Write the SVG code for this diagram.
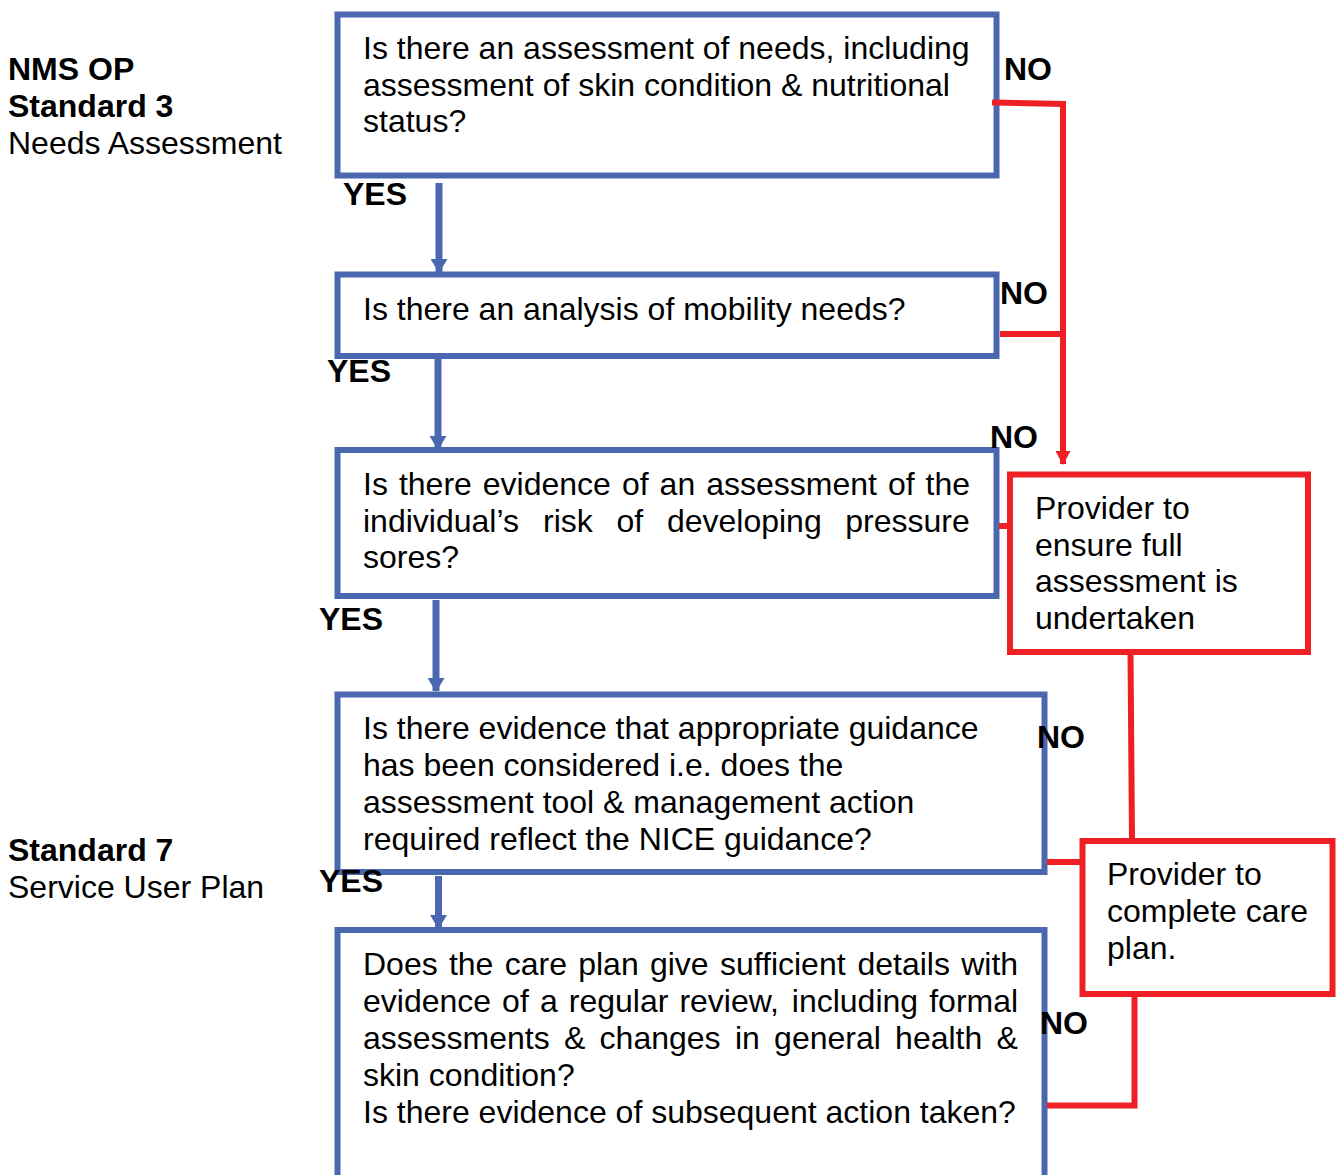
<svg xmlns="http://www.w3.org/2000/svg" width="1336" height="1175" viewBox="0 0 1336 1175">
<style>
text{font-family:"Liberation Sans",Arial,sans-serif;font-size:32px;fill:#000}
.b{font-weight:bold}
.q{fill:#fff;stroke:#4A68B0;stroke-width:6}
.r{fill:#fff;stroke:#EE2026;stroke-width:6}
.cb{fill:none;stroke:#4A68B0;stroke-width:7}
.cr{fill:none;stroke:#EE2026;stroke-width:6}
</style>
<defs>
<marker id="ab" markerUnits="userSpaceOnUse" markerWidth="14" markerHeight="17" viewBox="0 0 14 17" refX="13" refY="8.5" orient="auto"><path d="M0,0 L14,8.5 L0,17 z" fill="#4A68B0"/></marker>
<marker id="ar" markerUnits="userSpaceOnUse" markerWidth="14" markerHeight="15" viewBox="0 0 14 15" refX="13" refY="7.5" orient="auto"><path d="M0,0 L14,7.5 L0,15 z" fill="#EE2026"/></marker>
</defs>
<rect width="1336" height="1175" fill="#fff"/>

<g id="q1">
<rect class="q" x="337.5" y="14.5" width="659" height="161"/>
<text x="363" y="59">Is there an assessment of needs, including</text>
<text x="363" y="95.5">assessment of skin condition &amp; nutritional</text>
<text x="363" y="132">status?</text>
</g>

<g id="q2">
<rect class="q" x="337.5" y="274.5" width="659" height="81.5"/>
<text x="363" y="320">Is there an analysis of mobility needs?</text>
</g>

<g id="q3">
<rect class="q" x="337.5" y="450" width="659" height="146"/>
<text y="495"><tspan x="363">Is</tspan><tspan x="398.9">there</tspan><tspan x="482.8">evidence</tspan><tspan x="621.9">of</tspan><tspan x="659.6">an</tspan><tspan x="706.2">assessment</tspan><tspan x="887.9">of</tspan><tspan x="925.6">the</tspan></text>
<text y="532"><tspan x="363">individual’s</tspan><tspan x="543.1">risk</tspan><tspan x="616.5">of</tspan><tspan x="666.9">developing</tspan><tspan x="845.3">pressure</tspan></text>
<text x="363" y="568">sores?</text>
</g>

<g id="q4">
<rect class="q" x="337.5" y="694.5" width="707" height="177.5"/>
<text x="363" y="739">Is there evidence that appropriate guidance</text>
<text x="363" y="776">has been considered i.e. does the</text>
<text x="363" y="813">assessment tool &amp; management action</text>
<text x="363" y="850">required reflect the NICE guidance?</text>
</g>

<g id="q5">
<rect class="q" x="337.5" y="930" width="707" height="260"/>
<text y="975"><tspan x="363">Does</tspan><tspan x="448.9">the</tspan><tspan x="504.7">care</tspan><tspan x="578.2">plan</tspan><tspan x="649.9">give</tspan><tspan x="719.9">sufficient</tspan><tspan x="857.4">details</tspan><tspan x="961.2">with</tspan></text>
<text y="1012"><tspan x="363">evidence</tspan><tspan x="502.1">of</tspan><tspan x="539.9">a</tspan><tspan x="568.8">regular</tspan><tspan x="679.4">review,</tspan><tspan x="791.8">including</tspan><tspan x="929.2">formal</tspan></text>
<text y="1049"><tspan x="363">assessments</tspan><tspan x="564">&amp;</tspan><tspan x="599.6">changes</tspan><tspan x="734.9">in</tspan><tspan x="774.1">general</tspan><tspan x="895.1">health</tspan><tspan x="996.6">&amp;</tspan></text>
<text x="363" y="1086">skin condition?</text>
<text x="363" y="1123">Is there evidence of subsequent action taken?</text>
</g>

<g id="a1">
<rect class="r" x="1010" y="474.5" width="298" height="177.5"/>
<text x="1035" y="519">Provider to</text>
<text x="1035" y="556">ensure full</text>
<text x="1035" y="592">assessment is</text>
<text x="1035" y="629">undertaken</text>
</g>

<g id="a2">
<rect class="r" x="1082.5" y="841" width="250" height="153"/>
<text x="1107" y="885">Provider to</text>
<text x="1107" y="922">complete care</text>
<text x="1107" y="959">plan.</text>
</g>

<g id="connectors">
<line class="cb" x1="439" y1="183" x2="439" y2="272" marker-end="url(#ab)"/>
<line class="cb" x1="438" y1="359" x2="438" y2="449" marker-end="url(#ab)"/>
<line class="cb" x1="436" y1="600" x2="436" y2="691" marker-end="url(#ab)"/>
<line class="cb" x1="438.5" y1="876" x2="438.5" y2="928" marker-end="url(#ab)"/>
<path class="cr" d="M992,102.5 L1063,104 L1063,464" marker-end="url(#ar)"/>
<line class="cr" x1="1000" y1="334" x2="1063" y2="334"/>
<line class="cr" x1="999" y1="526" x2="1010" y2="526"/>
<line class="cr" x1="1130.5" y1="652" x2="1132" y2="841"/>
<line class="cr" x1="1047" y1="862" x2="1082" y2="862"/>
<path class="cr" d="M1047,1105.5 L1134.5,1105.5 L1134.5,994"/>
</g>

<g id="labels">
<text class="b" x="8" y="80">NMS OP</text>
<text class="b" x="8" y="117">Standard 3</text>
<text x="8" y="154">Needs Assessment</text>
<text class="b" x="8" y="861">Standard 7</text>
<text x="8" y="898">Service User Plan</text>
<text class="b" x="343" y="205">YES</text>
<text class="b" x="327" y="382">YES</text>
<text class="b" x="319" y="630">YES</text>
<text class="b" x="319" y="892">YES</text>
<text class="b" x="1004" y="80">NO</text>
<text class="b" x="1000" y="304">NO</text>
<text class="b" x="990" y="448">NO</text>
<text class="b" x="1037" y="748">NO</text>
<text class="b" x="1040" y="1034">NO</text>
</g>
</svg>
